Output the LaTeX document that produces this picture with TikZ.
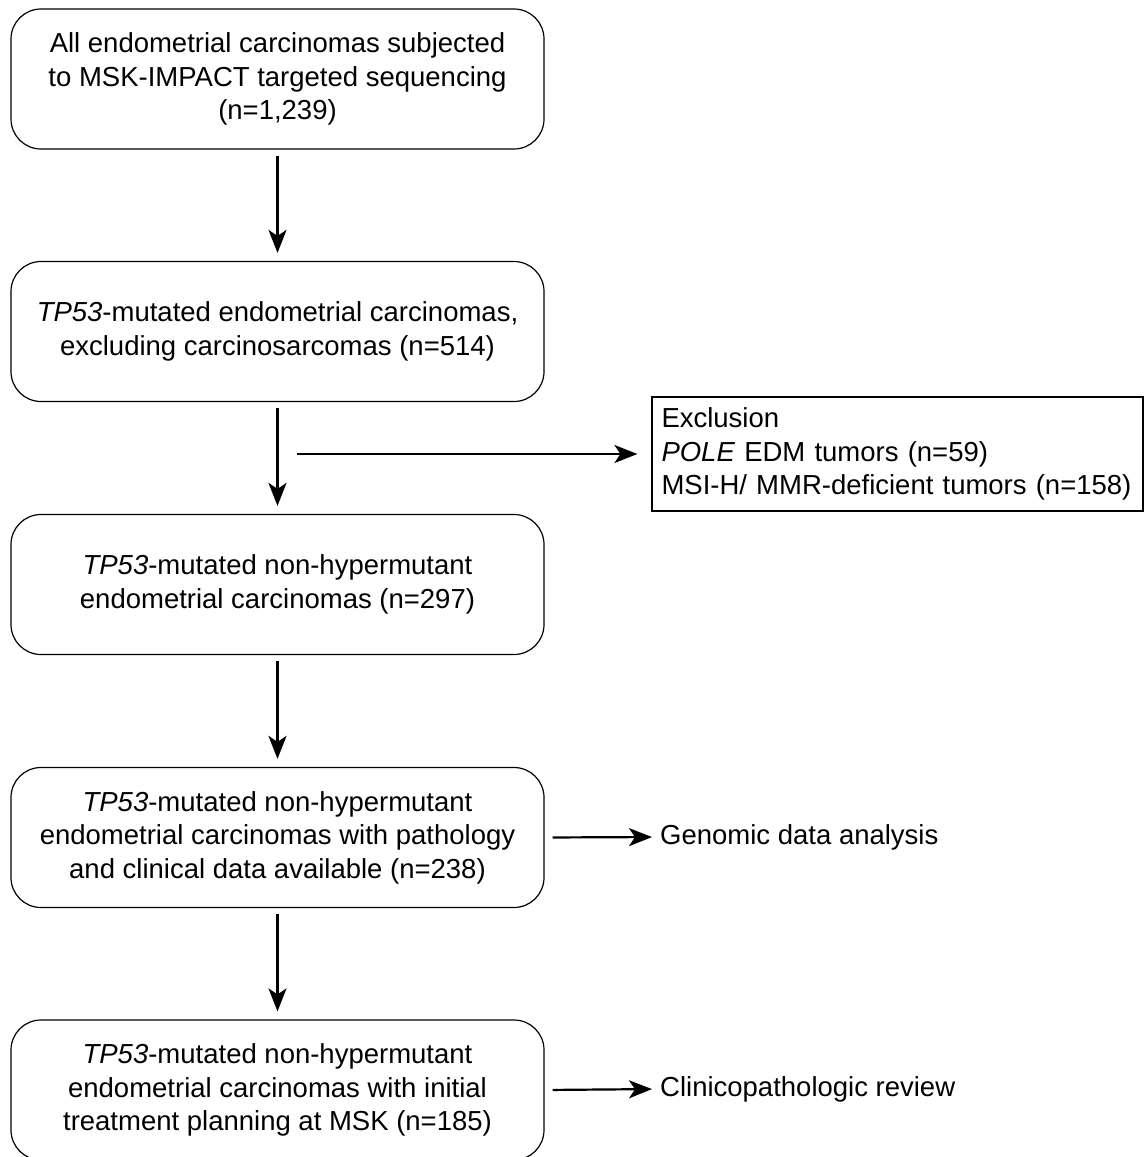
\documentclass[tikz,border=0pt]{standalone}
\usepackage{fontspec}
\setmainfont{Liberation Sans}
\usetikzlibrary{arrows.meta, positioning}

\begin{document}
\begin{tikzpicture}[x=1pt, y=-1pt,
    stepbox/.style={draw, line width=1.2pt, rounded corners=30pt, minimum width=533pt, minimum height=140pt, align=center},
    flow/.style={-{Stealth[length=23pt, width=18pt, inset=6pt]}, line width=2.2pt},
    font=\fontsize{27.5}{33.5}\selectfont]
                        \useasboundingbox (0, 0) rectangle (1145, 1157);
                        \node[stepbox] (all) at (277.5, 79) {All endometrial carcinomas subjected\\to MSK-IMPACT targeted sequencing\\(n=1,239)};
                        \node[stepbox] (tp) at (277.5, 331.5) {\textit{TP53}-mutated endometrial carcinomas,\\excluding carcinosarcomas (n=514)};
                        \node[stepbox] (nonhyper) at (277.5, 584.5) {\textit{TP53}-mutated non-hypermutant\\endometrial carcinomas (n=297)};
                        \node[stepbox] (patho) at (277.5, 837.5) {\textit{TP53}-mutated non-hypermutant\\endometrial carcinomas with pathology\\and clinical data available (n=238)};
                        \node[stepbox] (msk) at (277.5, 1090) {\textit{TP53}-mutated non-hypermutant\\endometrial carcinomas with initial\\treatment planning at MSK (n=185)};
                        \node[draw, line width=1.2pt, minimum height=114pt, text width=472pt, inner xsep=9.5pt, align=left] (excl) at (897.5, 454) {Exclusion\\\textit{POLE} EDM tumors (n=59)\\MSI-H/ MMR-deficient tumors (n=158)};
                        \node[anchor=west, inner xsep=0pt] (genomic) at (660, 837) {Genomic data analysis};
                        \node[anchor=west, inner xsep=0pt] (review) at (660, 1089) {Clinicopathologic review};
                        \coordinate (split) at (297, 454);
                        \draw[flow, shorten <=6pt, shorten >=8pt]
                        (all) -- (tp);
                        \draw[flow, shorten <=6pt, shorten >=8pt]
                        (tp) -- (nonhyper);
                        \draw[flow, shorten <=6pt, shorten >=8pt]
                        (nonhyper) -- (patho);
                        \draw[flow, shorten <=6pt, shorten >=8pt]
                        (patho) -- (msk);
                        \draw[flow, shorten >=14pt]
                        (split) -- (excl.west);
                        \draw[flow, shorten <=8pt, shorten >=8pt]
                        (patho.east) -- (genomic.west);
                        \draw[flow, shorten <=8pt, shorten >=8pt]
                        (msk.east) -- (review.west);
                    \end{tikzpicture}
\end{document}
